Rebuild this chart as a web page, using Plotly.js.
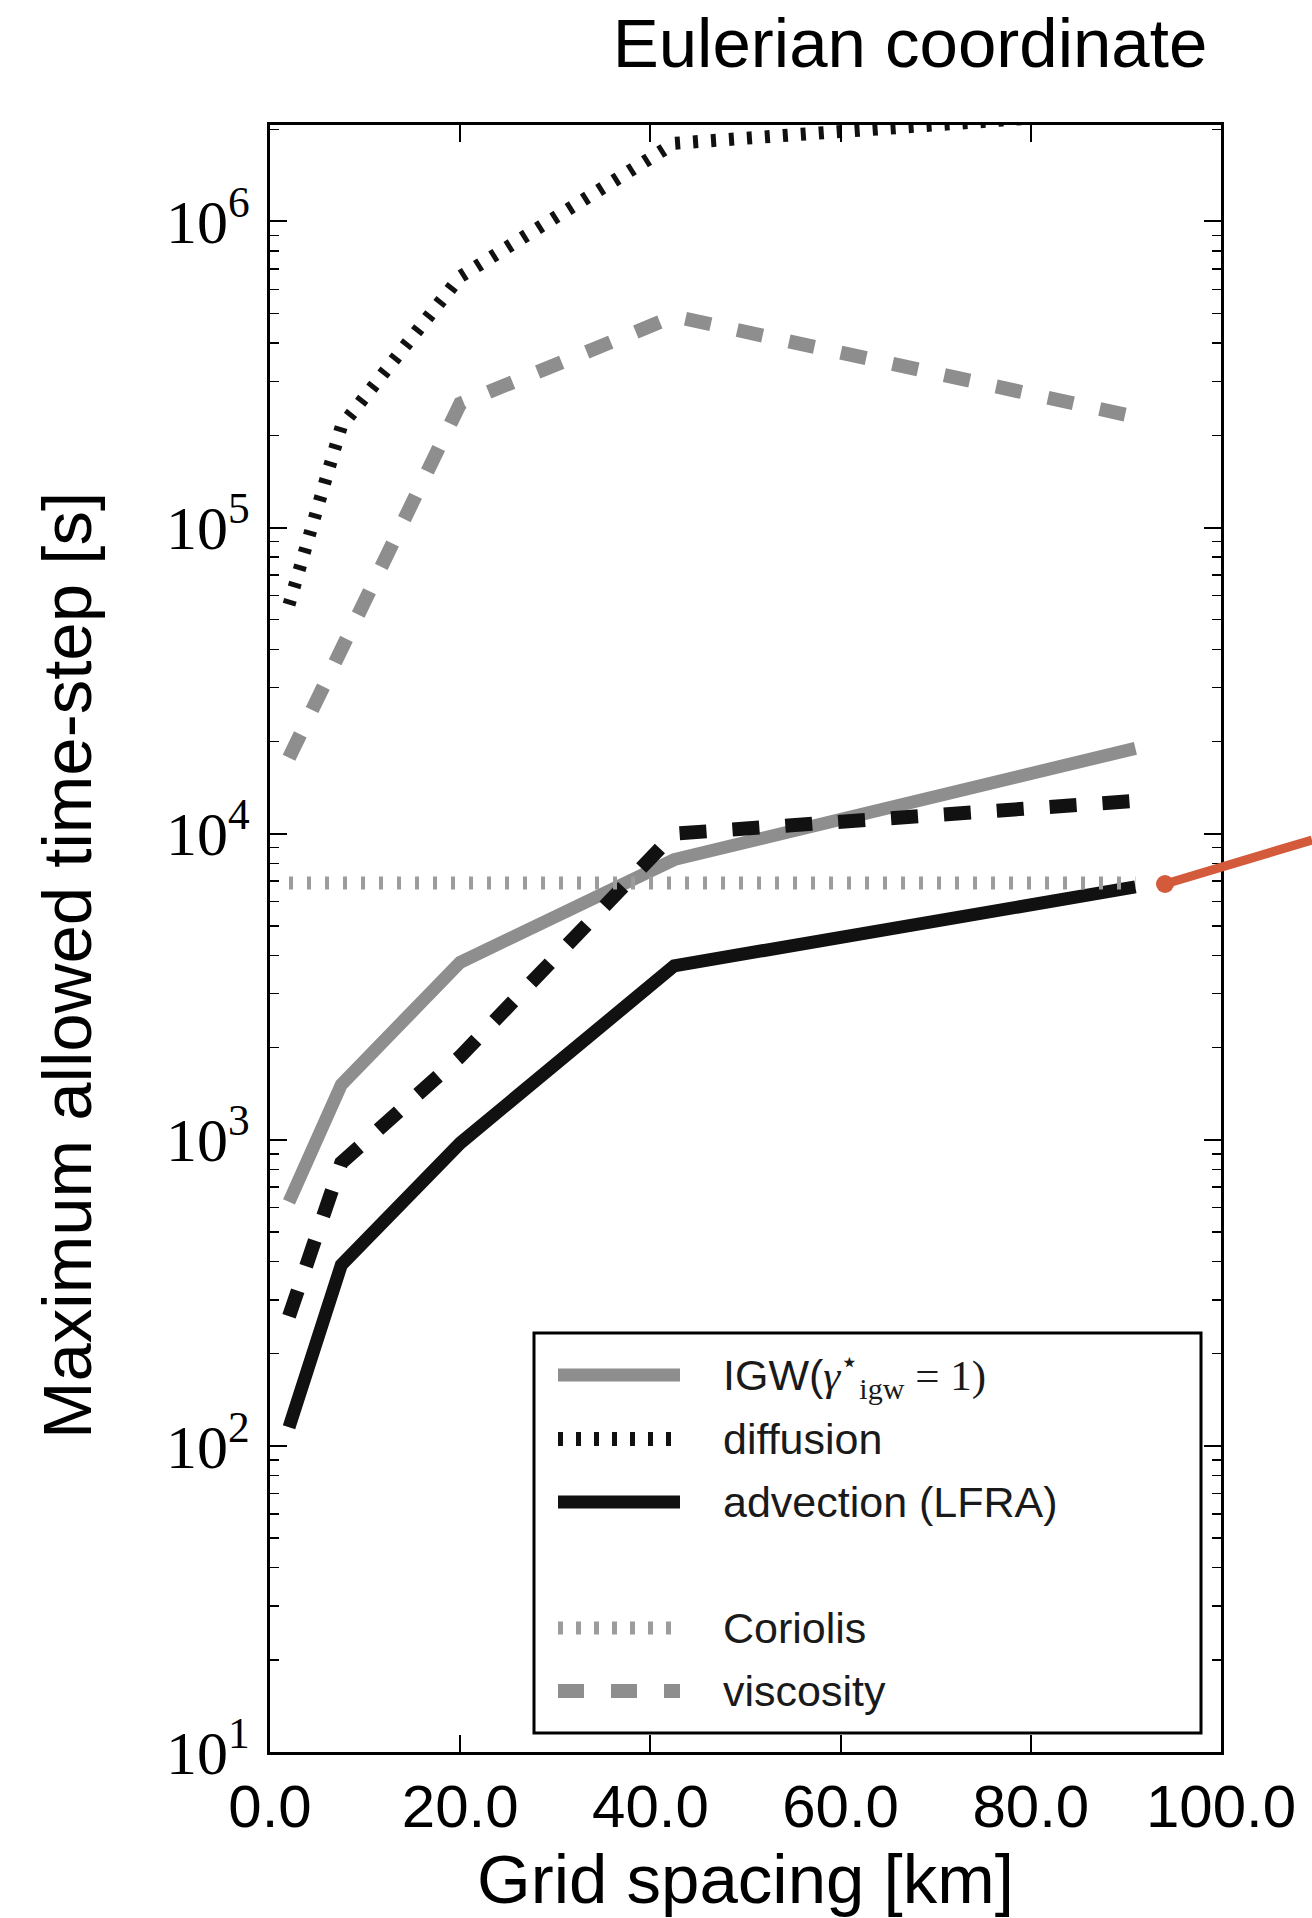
<!DOCTYPE html>
<html>
<head>
<meta charset="utf-8">
<script src="https://cdn.plot.ly/plotly-3.0.1.min.js"></script>
<style>html,body{margin:0;padding:0;background:#fff;}</style>
</head>
<body>
<div id="chart" style="width:1312px;height:1918px;"></div>
<script>
// Grid spacing [km]
const gridSpacing = [2, 7.5, 20, 42.5, 91];
// Maximum allowed time-step [s]
const igw        = [627, 1514, 3800, 8230, 19000];
const diffusion  = [56000, 214000, 660000, 1800000, 2300000];
const advection  = [115, 390, 975, 3700, 6700];
const unlabeled  = [265, 841, 1870, 10000, 12800];
const viscosity  = [17700, 40000, 254000, 490000, 230000];
const coriolisX  = [2, 91];
const coriolis   = [6900, 6900];

// axis ticks
const xTickVals   = [0, 20, 40, 60, 80, 100];
const yTickVals   = [10, 100, 1000, 10000, 100000, 1000000];
const yTickLabels = ['10<sup>1</sup>', '10<sup>2</sup>', '10<sup>3</sup>', '10<sup>4</sup>', '10<sup>5</sup>', '10<sup>6</sup>'];

// legend labels (in legend order; empty row is the unlabeled dashed series)
const legendLabels = [
  'IGW(<span style="font-family:\'Liberation Serif\'"><i>γ</i><sup>⋆</sup><sub>igw</sub> = 1)</span>',
  'diffusion',
  'advection (LFRA)',
  '',
  'Coriolis',
  'viscosity'
];

const gray = '#8e8e8e';
const black = '#111111';
const styles = {
  igw:       {color: gray, width: 13},
  diffusion: {color: black, width: 13, dash: '5px,13px'},
  advection: {color: black, width: 13},
  unlabeled: {color: black, width: 14, dash: '27px,26px'},
  coriolis:  {color: '#9c9c9c', width: 13, dash: '4px,14px'},
  viscosity: {color: gray, width: 14, dash: '26px,27px'}
};

const traces = [
  {x: gridSpacing, y: igw, name: 'IGW', mode: 'lines', line: styles.igw},
  {x: gridSpacing, y: diffusion, name: 'diffusion', mode: 'lines', line: styles.diffusion},
  {x: gridSpacing, y: advection, name: 'advection (LFRA)', mode: 'lines', line: styles.advection},
  {x: gridSpacing, y: unlabeled, name: 'unlabeled', mode: 'lines', line: styles.unlabeled},
  {x: coriolisX, y: coriolis, name: 'Coriolis', mode: 'lines', line: styles.coriolis},
  {x: gridSpacing, y: viscosity, name: 'viscosity', mode: 'lines', line: styles.viscosity}
];

const W = 1312, H = 1918;
const L = 270, R = 91, T = 125, B = 166;
const pw = W - L - R, ph = H - T - B;
function px2paperX(px) { return (px - L) / pw; }
function px2paperY(py) { return (H - B - py) / ph; }

const sansFont = 'Liberation Sans, Arial, sans-serif';

// manual legend (box, samples, labels)
const legendStyles = [styles.igw, {color: black, width: 14, dash: '5px,13px'}, styles.advection, null,
                      {color: '#9c9c9c', width: 13, dash: '5px,13px'}, styles.viscosity];
const legendRowsY = [1375, 1439, 1502, 1565, 1628, 1691];
const shapes = [
  {type: 'rect', xref: 'paper', yref: 'paper', x0: px2paperX(534), x1: px2paperX(1201), y0: px2paperY(1733), y1: px2paperY(1333),
   fillcolor: '#fff', line: {color: '#000', width: 3}, layer: 'above'}
];
const annotations = [];
legendStyles.forEach((st, i) => {
  const yy = px2paperY(legendRowsY[i]);
  if (st) {
    shapes.push({type: 'line', xref: 'paper', yref: 'paper', x0: px2paperX(558), x1: px2paperX(680), y0: yy, y1: yy,
                 line: {color: st.color, width: st.width, dash: st.dash || 'solid'}, layer: 'above'});
  }
  if (legendLabels[i]) {
    annotations.push({xref: 'paper', yref: 'paper', x: px2paperX(721), y: yy, xanchor: 'left', yanchor: 'middle',
                      text: legendLabels[i], showarrow: false, font: {family: sansFont, size: 43, color: '#1a1a1a'}});
  }
});
// y axis title (placed as annotation to match position)
annotations.push({xref: 'paper', yref: 'paper', x: px2paperX(67), y: px2paperY(966), xanchor: 'center', yanchor: 'middle',
                  text: 'Maximum allowed time-step [s]', textangle: -90, showarrow: false,
                  font: {family: sansFont, size: 69, color: '#000'}});
// hand-drawn orange pointer
shapes.push(
  {type: 'line', xref: 'paper', yref: 'paper', x0: px2paperX(1165), y0: px2paperY(884), x1: px2paperX(1312), y1: px2paperY(840),
   line: {color: '#d45a3c', width: 9}, layer: 'above'},
  {type: 'circle', xref: 'paper', yref: 'paper', x0: px2paperX(1156), y0: px2paperY(893), x1: px2paperX(1174), y1: px2paperY(875),
   fillcolor: '#d45a3c', line: {color: '#d45a3c', width: 0}, layer: 'above'}
);

const layout = {
  width: W, height: H,
  margin: {l: L, r: R, t: T, b: B, pad: 0},
  paper_bgcolor: '#fff', plot_bgcolor: '#fff',
  showlegend: false,
  title: {text: 'Eulerian coordinate', font: {family: sansFont, size: 69, color: '#000'},
          xref: 'container', yref: 'container', x: 910 / W, xanchor: 'center', y: 1 - 43 / H, yanchor: 'middle'},
  xaxis: {
    range: [0, 100], tickvals: xTickVals, tickformat: '.1f',
    ticks: 'inside', ticklen: 17, tickwidth: 2, tickcolor: '#000',
    showline: true, linewidth: 3, linecolor: '#000', mirror: 'ticks',
    showgrid: false, zeroline: false,
    tickfont: {family: sansFont, size: 60, color: '#000'},
    title: {text: 'Grid spacing [km]', font: {family: sansFont, size: 69, color: '#000'}, standoff: 20},
    automargin: false
  },
  yaxis: {
    type: 'log', range: [1, 6.315], tickvals: yTickVals, ticktext: yTickLabels,
    ticks: 'inside', ticklen: 17, tickwidth: 2, tickcolor: '#000',
    showline: true, linewidth: 3, linecolor: '#000', mirror: 'ticks',
    showgrid: false, zeroline: false,
    minor: {dtick: 'D1', ticks: 'inside', ticklen: 9, tickwidth: 1.5, tickcolor: '#000', showgrid: false},
    tickfont: {family: 'Liberation Serif, Times New Roman, serif', size: 62, color: '#000'},
    ticklabelstandoff: 5,
    automargin: false
  },
  shapes: shapes,
  annotations: annotations
};

Plotly.newPlot('chart', traces, layout, {displayModeBar: false, staticPlot: true});
</script>
</body>
</html>
